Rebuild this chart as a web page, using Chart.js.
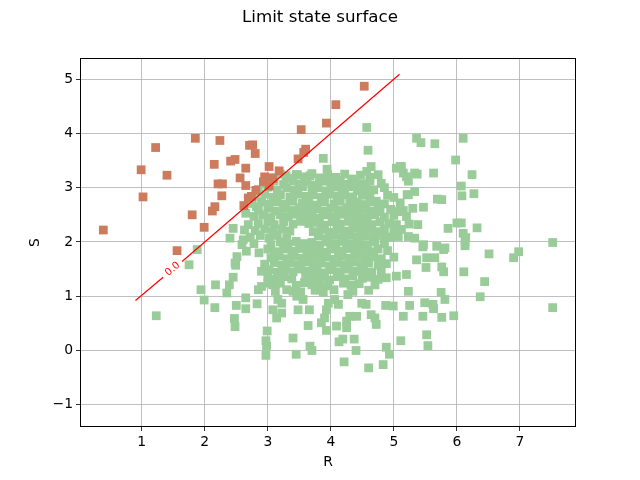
<!DOCTYPE html>
<html>
<head>
<meta charset="utf-8">
<script src="https://cdn.jsdelivr.net/npm/chart.js@4.4.1/dist/chart.umd.min.js"></script>
<style>
  html, body { margin: 0; padding: 0; background: #fff; }
  #wrap { width: 640px; height: 480px; }
</style>
</head>
<body>
<div id="wrap"><canvas id="lss" width="640" height="480"></canvas></div>
<script>
const chartTitle = 'Limit state surface';
const xLabel = 'R';
const yLabel = 'S';
const xTicks = [1, 2, 3, 4, 5, 6, 7];
const yTicks = [-1, 0, 1, 2, 3, 4, 5];
const xRange = [0.02, 7.89];
const yRange = [-1.41, 5.39];

// contour g(R,S) = 0, broken where the label sits
const contourLevel = '0.0';
const contourLabelAt = [1.49, 1.5];
const limitLine = [[0.9, 0.92], [1.34, 1.35], [1.5, null], [1.64, 1.64], [5.09, 5.09]];

// samples in the failure domain (S > R)
const failedPoints = [
  [1.85, 3.91], [2.24, 3.87], [1.22, 3.74], [2.71, 3.78], [0.99, 3.33], [1.40, 3.23],
  [2.15, 3.43], [2.41, 3.49], [2.48, 3.52], [2.65, 3.36], [2.56, 3.18], [2.21, 3.07],
  [2.28, 3.07], [2.65, 3.04], [1.02, 2.83], [2.27, 2.85], [2.69, 2.81], [2.16, 2.65],
  [2.12, 2.57], [2.62, 2.67], [1.80, 2.50], [1.99, 2.27], [0.39, 2.22], [1.56, 1.84],
  [4.53, 4.87], [4.08, 4.53], [3.93, 4.19], [3.53, 4.07], [3.60, 3.71], [3.57, 3.65],
  [3.48, 3.53], [2.76, 3.79], [2.80, 3.63], [3.02, 3.39], [3.18, 3.31], [2.95, 3.20],
  [3.08, 3.17], [2.93, 3.11], [3.02, 3.03], [2.81, 2.95], [2.74, 2.84]
];

// samples in the safe domain
const safePoints = [
  // dense core
  [3.05, 3.19], [3.2, 3.25], [3.32, 3.17], [3.47, 3.24], [3.58, 3.2], [3.7, 3.26], [3.82, 3.18],
  [3.95, 3.24], [4.08, 3.19], [4.22, 3.25], [4.33, 3.16], [4.47, 3.23], [4.62, 3.19], [4.75, 3.24],
  [2.95, 3.08], [3.1, 3.12], [3.25, 3.06], [3.4, 3.13], [3.5, 3.07], [3.62, 3.11], [3.75, 3.05],
  [3.87, 3.12], [4.0, 3.08], [4.15, 3.13], [4.28, 3.06], [4.38, 3.11], [4.5, 3.07], [4.62, 3.12], [4.8, 3.08],
  [2.85, 2.97], [3.0, 3.01], [3.15, 2.95], [3.3, 3.0], [3.42, 2.96], [3.55, 3.02], [3.7, 2.97], [3.8, 3.0],
  [3.92, 2.94], [4.05, 3.01], [4.18, 2.97], [4.3, 3.02], [4.42, 2.95], [4.55, 2.99], [4.68, 2.96], [4.85, 3.0],
  [2.8, 2.84], [2.95, 2.88], [3.08, 2.82], [3.2, 2.87], [3.35, 2.83], [3.48, 2.88], [3.6, 2.84], [3.72, 2.87],
  [3.85, 2.82], [3.98, 2.88], [4.1, 2.84], [4.22, 2.87], [4.35, 2.83], [4.5, 2.86], [4.62, 2.84], [4.9, 2.86], [5.0, 2.82],
  [2.75, 2.71], [2.9, 2.74], [3.02, 2.69], [3.15, 2.74], [3.28, 2.7], [3.4, 2.75], [3.55, 2.71], [3.65, 2.73],
  [3.78, 2.68], [3.9, 2.74], [4.05, 2.7], [4.15, 2.75], [4.3, 2.71], [4.42, 2.73], [4.55, 2.69], [4.68, 2.74],
  [4.85, 2.7], [5.1, 2.72],
  [2.85, 2.59], [3.0, 2.62], [3.12, 2.57], [3.25, 2.62], [3.38, 2.58], [3.5, 2.63], [3.62, 2.59], [3.75, 2.61],
  [3.88, 2.57], [4.0, 2.62], [4.12, 2.58], [4.25, 2.63], [4.38, 2.59], [4.5, 2.61], [4.62, 2.57], [4.75, 2.62],
  [4.95, 2.6], [5.15, 2.58], [5.3, 2.62],
  [2.78, 2.47], [2.92, 2.5], [3.05, 2.45], [3.2, 2.5], [3.32, 2.46], [3.45, 2.51], [3.58, 2.47], [3.7, 2.49],
  [3.82, 2.44], [3.95, 2.5], [4.08, 2.46], [4.2, 2.51], [4.32, 2.47], [4.45, 2.49], [4.58, 2.45], [4.7, 2.5],
  [4.85, 2.46], [5.0, 2.49], [5.2, 2.47],
  [2.85, 2.34], [3.0, 2.37], [3.1, 2.32], [3.25, 2.37], [3.4, 2.33], [3.52, 2.38], [3.65, 2.34], [3.78, 2.36],
  [3.9, 2.31], [4.02, 2.37], [4.15, 2.33], [4.28, 2.38], [4.4, 2.34], [4.52, 2.36], [4.65, 2.32], [4.78, 2.37], [4.92, 2.34],
  [2.8, 2.21], [2.95, 2.24], [3.08, 2.19], [3.22, 2.24], [3.35, 2.2], [3.72, 2.19], [3.85, 2.23],
  [3.98, 2.18], [4.1, 2.24], [4.22, 2.2], [4.35, 2.25], [4.48, 2.21], [4.6, 2.23], [4.72, 2.19], [4.85, 2.24],
  [5.0, 2.21], [5.12, 2.23],
  [2.72, 2.09], [2.88, 2.12], [3.02, 2.07], [3.15, 2.12], [3.3, 2.08], [3.8, 2.11],
  [3.92, 2.06], [4.05, 2.12], [4.18, 2.08], [4.3, 2.13], [4.42, 2.09], [4.55, 2.11], [4.68, 2.07], [4.82, 2.12], [4.95, 2.09],
  [2.78, 1.97], [3.05, 1.95], [3.2, 2.0], [3.32, 1.96], [3.45, 2.01], [3.58, 1.97], [3.7, 1.99],
  [3.82, 1.94], [3.95, 2.0], [4.08, 1.96], [4.2, 2.01], [4.32, 1.97], [4.45, 1.99], [4.58, 1.95], [4.7, 2.0], [4.85, 1.97],
  [3.0, 1.87], [3.12, 1.82], [3.25, 1.87], [3.38, 1.83], [3.5, 1.88], [3.62, 1.84], [3.75, 1.86], [3.88, 1.81],
  [4.0, 1.87], [4.12, 1.83], [4.25, 1.88], [4.38, 1.84], [4.5, 1.86], [4.62, 1.82], [4.75, 1.87], [4.9, 1.84],
  [3.05, 1.71], [3.18, 1.74], [3.3, 1.69], [3.42, 1.74], [3.55, 1.7], [3.68, 1.75], [3.8, 1.71], [3.92, 1.73],
  [4.05, 1.68], [4.18, 1.74], [4.3, 1.7], [4.42, 1.75], [4.55, 1.71], [4.68, 1.73], [4.8, 1.69], [5.0, 1.72],
  [2.95, 1.59], [3.1, 1.62], [3.22, 1.57], [3.35, 1.62], [3.48, 1.58], [3.6, 1.63], [3.72, 1.59], [3.85, 1.61],
  [3.98, 1.56], [4.1, 1.62], [4.22, 1.58], [4.35, 1.63], [4.48, 1.59], [4.6, 1.61], [4.75, 1.57], [4.88, 1.6],
  [2.9, 1.46], [3.02, 1.49], [3.15, 1.44], [3.28, 1.49], [3.4, 1.45], [3.52, 1.5], [3.65, 1.46], [3.78, 1.48],
  [3.9, 1.43], [4.02, 1.49], [4.15, 1.45], [4.28, 1.5], [4.4, 1.46], [4.52, 1.48], [4.65, 1.44], [4.8, 1.47],
  [3.0, 1.36], [3.12, 1.31], [3.25, 1.36], [3.38, 1.32], [3.6, 1.37], [3.72, 1.33], [3.85, 1.35], [3.98, 1.3],
  [4.1, 1.36], [4.22, 1.32], [4.35, 1.37], [4.5, 1.33], [4.62, 1.35], [4.75, 1.31],
  [3.08, 1.21], [3.2, 1.24], [3.45, 1.2], [3.58, 1.25], [3.7, 1.21], [3.82, 1.23], [3.95, 1.19], [4.2, 1.24],
  [4.32, 1.2], [4.45, 1.23], [4.7, 1.21],
  [3.12, 1.09], [3.3, 1.12], [3.52, 1.08], [3.75, 1.11], [3.88, 1.07], [4.05, 1.12], [4.35, 1.09], [4.6, 1.11],
  // upper edge
  [4.57, 4.11], [4.59, 3.69], [3.88, 3.54], [3.94, 3.34], [3.29, 3.22], [3.45, 3.24], [3.67, 3.22], [4.01, 3.14],
  [4.64, 3.39], [4.57, 3.30], [5.04, 3.36], [5.12, 3.39], [5.20, 3.20], [5.33, 3.27], [5.23, 2.87], [4.72, 2.75],
  [4.78, 2.56], [5.04, 2.56],
  // right side
  [5.36, 3.91], [5.43, 3.83], [5.65, 3.81], [6.10, 3.91], [5.98, 3.51], [5.10, 3.39], [5.15, 3.27], [5.23, 3.12],
  [5.37, 3.25], [5.63, 3.27], [6.07, 3.03], [6.08, 2.85], [6.27, 2.89], [6.24, 3.24], [5.21, 2.87], [5.33, 2.93],
  [5.69, 2.79], [5.76, 2.78], [5.47, 2.64], [5.06, 2.56], [5.24, 2.33], [5.38, 2.32], [5.86, 2.25], [6.00, 2.35],
  [6.07, 2.35], [6.10, 2.16], [6.13, 2.01], [5.04, 2.32], [5.07, 2.10], [5.23, 2.10], [5.33, 2.07], [5.47, 1.95],
  [5.68, 1.92], [5.81, 1.89], [6.32, 2.26], [6.14, 2.08],
  [7.52, 1.99], [7.52, 0.79], [6.98, 1.82], [6.90, 1.71], [6.51, 1.78], [6.44, 1.27], [6.37, 0.99], [6.13, 1.93],
  [6.11, 1.45], [5.79, 1.86], [5.79, 1.45], [5.46, 1.91], [5.52, 1.71], [5.65, 1.71], [5.51, 1.53], [5.76, 1.54],
  [5.75, 1.07], [5.81, 0.94], [5.49, 0.88], [5.62, 0.85], [5.63, 0.77], [5.46, 0.63], [5.76, 0.61], [5.95, 0.64],
  [5.52, 0.29], [5.54, 0.09], [5.36, 1.67], [4.88, 1.34], [5.04, 1.37], [5.20, 1.40],
  // left side
  [2.65, 2.53], [2.45, 2.25], [2.40, 2.07], [2.61, 2.04], [2.69, 2.32], [1.88, 1.86], [1.75, 1.58], [1.23, 0.64],
  [1.94, 1.12], [1.99, 0.93], [2.17, 1.21], [2.16, 0.79], [2.39, 1.21], [2.35, 1.06], [2.45, 1.35], [2.49, 1.57],
  [2.51, 1.73], [2.48, 1.61], [2.65, 0.97], [2.65, 0.77], [2.50, 0.83], [2.47, 0.59], [2.48, 0.44], [2.66, 1.83],
  [2.59, 1.95], [2.82, 2.65], [2.63, 2.22],
  // lower tail
  [2.90, 1.18], [2.85, 1.12], [3.00, 1.24], [3.40, 1.09], [3.46, 1.00], [4.27, 1.03], [3.22, 0.87], [3.16, 0.94],
  [4.06, 0.94], [4.12, 0.85], [3.93, 0.75], [3.90, 0.60], [3.96, 0.87], [3.66, 0.75], [3.48, 0.75], [3.56, 0.94],
  [3.14, 0.60], [3.22, 0.69], [3.08, 0.75], [4.49, 0.87], [4.56, 0.85], [4.87, 0.83], [4.99, 0.82], [5.25, 0.83],
  [5.23, 1.09], [5.15, 0.63], [4.30, 0.63], [4.41, 0.63], [4.25, 0.54], [4.72, 0.48], [4.70, 0.60], [4.64, 0.66],
  [4.09, 0.45], [4.25, 0.42], [3.93, 0.37], [3.85, 0.51], [4.13, 0.16], [4.19, 0.21], [4.37, 0.21], [4.40, 0.00],
  [5.11, 0.18], [4.88, 0.06], [4.93, -0.07], [4.83, -0.26], [4.60, -0.32], [4.21, -0.21], [3.64, 0.46], [3.67, 0.08],
  [3.70, 0.00], [3.40, 0.23], [3.45, -0.07], [2.99, 0.36], [2.97, 0.18], [2.98, 0.08], [2.97, -0.09], [2.83, 0.86],
  [2.86, 1.80]
];

const safeColor = '#99cc99';
const failColor = '#cd7b5d';
const FONT = "'DejaVu Sans', sans-serif";
Chart.defaults.font.family = FONT;

const toXY = pts => pts.map(p => ({ x: p[0], y: p[1] }));
const minusSign = v => String(v).replace('-', '\u2212');

// axes frame, suptitle and the inline contour label
const decorations = {
  id: 'decorations',
  afterDraw(chart) {
    const { ctx, chartArea: a, scales } = chart;
    ctx.save();
    ctx.strokeStyle = '#000';
    ctx.lineWidth = 1;
    ctx.strokeRect(a.left + 0.5, a.top + 0.5, a.right - a.left - 1, a.bottom - a.top - 1);

    ctx.fillStyle = '#000';
    ctx.font = '16.7px ' + FONT;
    ctx.textAlign = 'center';
    ctx.textBaseline = 'middle';
    ctx.fillText(chartTitle, 320, 18);

    const x0 = scales.x.getPixelForValue(limitLine[0][0]);
    const y0 = scales.y.getPixelForValue(limitLine[0][1]);
    const x1 = scales.x.getPixelForValue(limitLine[4][0]);
    const y1 = scales.y.getPixelForValue(limitLine[4][1]);
    ctx.translate(scales.x.getPixelForValue(contourLabelAt[0]), scales.y.getPixelForValue(contourLabelAt[1]));
    ctx.rotate(Math.atan2(y1 - y0, x1 - x0));
    ctx.fillStyle = '#ff0000';
    ctx.font = '10px ' + FONT;
    ctx.fillText(contourLevel, 0, 0);
    ctx.restore();
  }
};

new Chart(document.getElementById('lss').getContext('2d'), {
  type: 'scatter',
  data: {
    datasets: [
      {
        type: 'line',
        data: limitLine.map(p => ({ x: p[0], y: p[1] })),
        borderColor: '#ff0000',
        borderWidth: 1.2,
        pointRadius: 0,
        spanGaps: false,
        fill: false,
        tension: 0
      },
      {
        data: toXY(failedPoints),
        pointStyle: 'rect',
        pointRadius: 6.2,
        backgroundColor: failColor,
        borderWidth: 0
      },
      {
        data: toXY(safePoints),
        pointStyle: 'rect',
        pointRadius: 6.2,
        backgroundColor: safeColor,
        borderWidth: 0
      }
    ]
  },
  options: {
    responsive: false,
    animation: false,
    events: [],
    layout: { padding: { left: 0, right: 64, top: 58, bottom: 0 } },
    plugins: { legend: { display: false }, tooltip: { enabled: false }, title: { display: false } },
    scales: {
      x: {
        type: 'linear',
        min: xRange[0],
        max: xRange[1],
        afterBuildTicks: s => { s.ticks = xTicks.map(v => ({ value: v })); },
        afterFit: s => { s.height = 53; },
        ticks: { color: '#000', font: { size: 13.9 }, padding: 3, maxRotation: 0, callback: minusSign },
        grid: { color: '#b0b0b0', lineWidth: 0.8, tickColor: '#000', tickLength: 4, tickWidth: 0.8 },
        border: { display: false },
        title: { display: true, text: xLabel, color: '#000', font: { size: 13.9 }, padding: { top: 0, bottom: 9.5 } }
      },
      y: {
        type: 'linear',
        min: yRange[0],
        max: yRange[1],
        afterBuildTicks: s => { s.ticks = yTicks.map(v => ({ value: v })); },
        afterFit: s => { s.width = 80; },
        ticks: { color: '#000', font: { size: 13.9 }, padding: 3, callback: minusSign },
        grid: { color: '#b0b0b0', lineWidth: 0.8, tickColor: '#000', tickLength: 4, tickWidth: 0.8 },
        border: { display: false },
        title: { display: true, text: yLabel, color: '#000', font: { size: 13.9 }, padding: { top: 27.5, bottom: 0 } }
      }
    }
  },
  plugins: [decorations]
});
</script>
</body>
</html>
